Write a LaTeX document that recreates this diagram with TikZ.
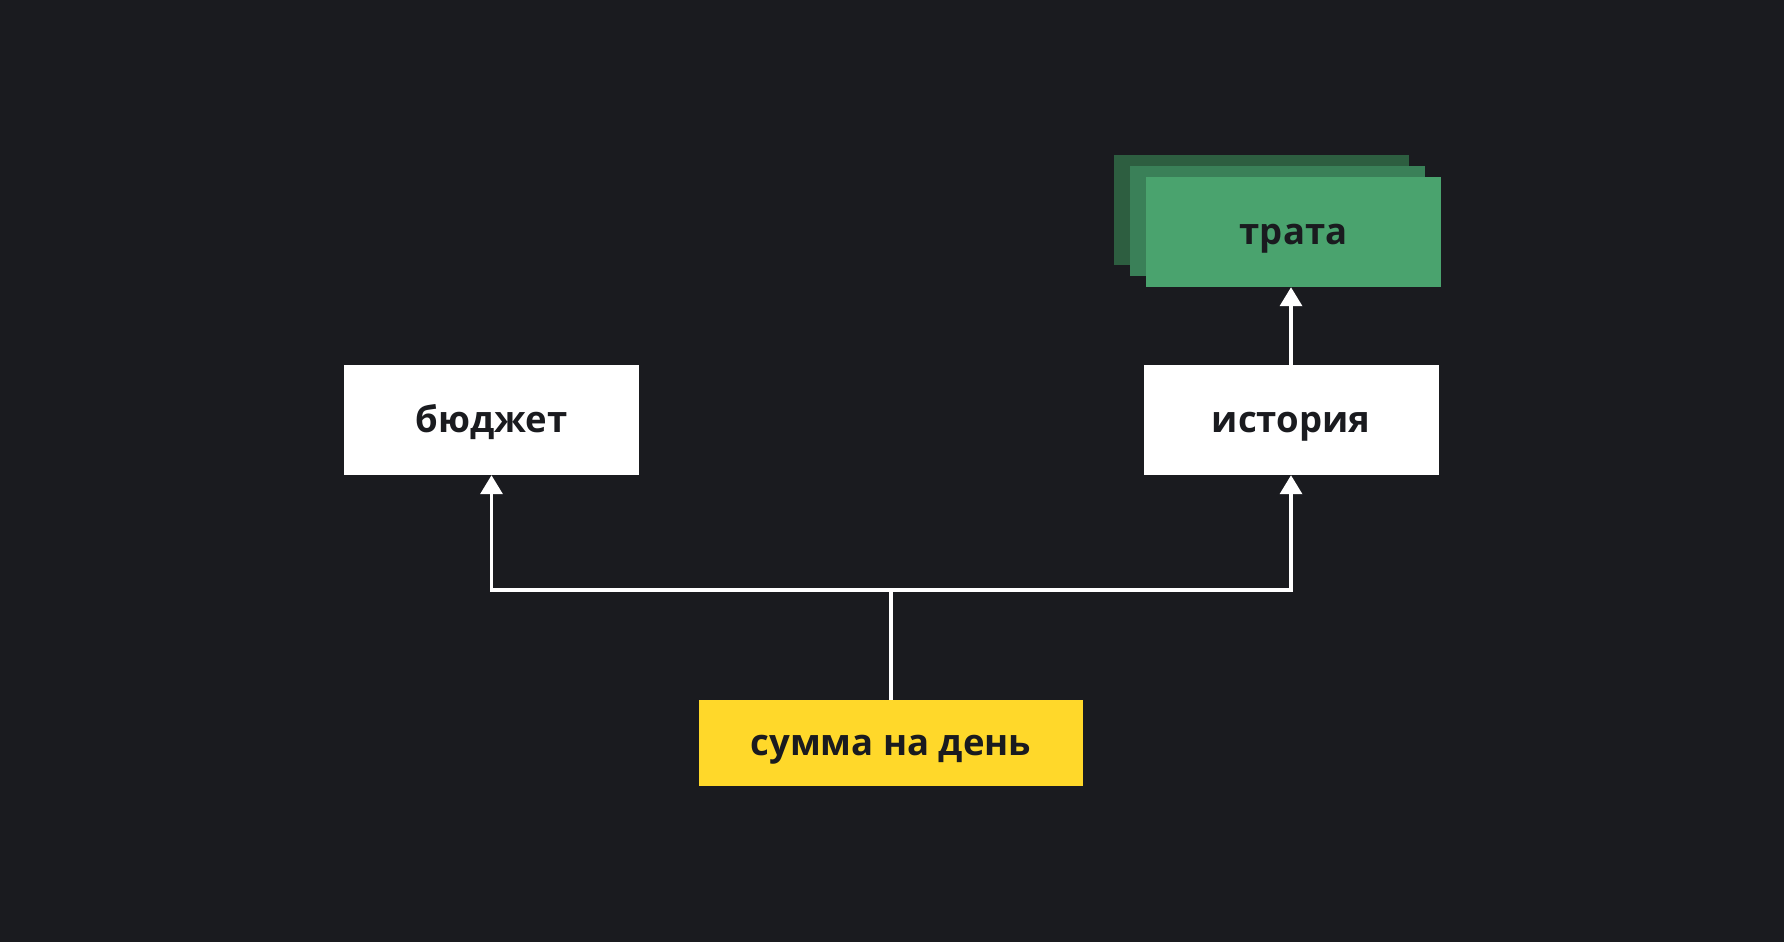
\documentclass[tikz,border=0pt]{standalone}
\usepackage{fontspec}
\setmainfont{Open Sans}
\usetikzlibrary{arrows.meta}
\definecolor{bg}{HTML}{1A1B1F}
\definecolor{ink}{HTML}{1A1B1F}
\definecolor{sumyellow}{HTML}{FFD82A}
\definecolor{greenfront}{HTML}{4AA36E}
\definecolor{greenmid}{HTML}{3A8058}
\definecolor{greenback}{HTML}{2D5E40}
\begin{document}
\begin{tikzpicture}[x=1pt,y=-1pt,
  box/.style={rectangle, inner sep=0pt, minimum width=295pt, minimum height=110pt,
    text height=25pt, text depth=0pt,
    text=ink, font=\fontsize{36.5}{42}\selectfont\bfseries},
  link/.style={draw=white, line width=3.5pt},
  tip/.style={-{Triangle[width=22pt,length=19pt]}}]
  \fill[bg] (0,0) rectangle (1784,942);
  \useasboundingbox (0,0) rectangle (1784,942);

  % stacked cards behind "трата"
  \node[box, fill=greenback] (cardback) at (1261.5,210) {};
  \node[box, fill=greenmid] (cardmid) at (1277.5,221) {};
  \node[box, fill=greenfront] (spend) at (1293.5,232) {трата};

  \node[box, fill=white] (budget) at (491.5,420) {бюджет};
  \node[box, fill=white] (history) at (1291,420) {история};
  \node[box, fill=sumyellow, minimum width=384pt, minimum height=86pt] (daily) at (891,743) {сумма на день};

  \coordinate (fork) at (daily.north |- 0,590);
  \draw[link] (daily.north) -- (fork);
  \draw[link, tip] (fork) -| (budget.south);
  \draw[link, tip] (fork) -| (history.south);
  \draw[link, tip] (history.north) -- (history.north |- spend.south);
\end{tikzpicture}
\end{document}
